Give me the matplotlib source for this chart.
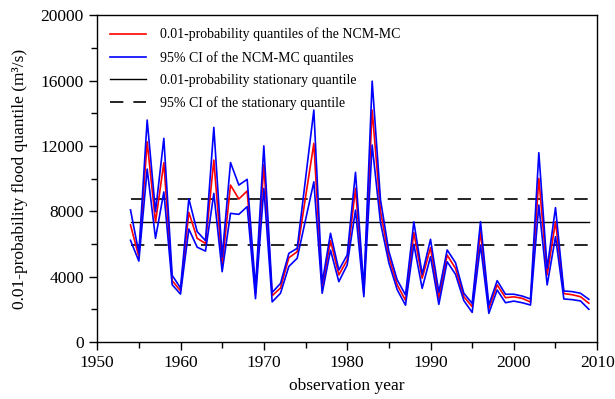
import numpy as np
import matplotlib
matplotlib.use('agg')
from matplotlib import pyplot as plt
from matplotlib.ticker import MultipleLocator

plt.rcParams['font.family'] = ['Liberation Serif', 'DejaVu Serif']

years = np.arange(1954, 2010)

# 0.01-probability quantiles of the NCM-MC
quantile = [7160, 5220, 12250, 7330, 10970, 3750, 3130, 7930, 6340, 6030,
            11130, 4700, 9600, 8750, 9240, 2950, 10850, 2830, 3300, 5150,
            5520, 8840, 12150, 3280, 6200, 4100, 5010, 9400, 2980, 14190,
            8000, 5200, 3500, 2550, 6700, 3900, 5770, 2670, 5320, 4500,
            2770, 2160, 6750, 2060, 3490, 2710, 2760, 2670, 2440, 10010,
            4100, 7360, 2960, 2890, 2770, 2370]
ci_upper = [8080, 5450, 13580, 7970, 12460, 4080, 3300, 8760, 6750, 6200,
            13130, 5200, 10980, 9600, 9950, 3300, 12000, 3030, 3580, 5420,
            5730, 9960, 14190, 3600, 6650, 4400, 5320, 10380, 3280, 15960,
            8700, 5550, 3800, 2880, 7350, 4140, 6280, 3040, 5630, 4850,
            2980, 2360, 7360, 2260, 3750, 2920, 2920, 2810, 2630, 11580,
            4500, 8220, 3120, 3080, 2980, 2610]
ci_lower = [6220, 4950, 10580, 6340, 9180, 3500, 2930, 6910, 5800, 5560,
            9090, 4300, 7870, 7810, 8280, 2650, 9400, 2450, 2980, 4620,
            5120, 7460, 9800, 2980, 5620, 3690, 4710, 8070, 2770, 12050,
            7300, 4850, 3200, 2250, 5980, 3280, 5220, 2300, 4910, 4140,
            2530, 1810, 5930, 1750, 3180, 2400, 2500, 2400, 2260, 8380,
            3490, 6440, 2630, 2590, 2510, 2000]

stationary_q = 7350
stationary_lo = 5950
stationary_hi = 8750

fig = plt.figure(figsize=(6.15, 3.99), dpi=100)
ax = fig.add_axes([0.158, 0.143, 0.813, 0.819])

n = len(years)
ax.plot(years, np.full(n, stationary_q), color='black', lw=1.0, zorder=2,
        label='0.01-probability stationary quantile')
ax.plot(years, np.full(n, stationary_hi), color='black', lw=1.2, ls=(0, (8, 6)), zorder=2,
        label='95% CI of the stationary quantile')
ax.plot(years, np.full(n, stationary_lo), color='black', lw=1.2, ls=(0, (8, 6)), zorder=2)
ax.plot(years, quantile, color='#ff0000', lw=1.2, zorder=3,
        label='0.01-probability quantiles of the NCM-MC')
ax.plot(years, ci_upper, color='#0000ff', lw=1.2, zorder=4,
        label='95% CI of the NCM-MC quantiles')
ax.plot(years, ci_lower, color='#0000ff', lw=1.2, zorder=4)

ax.set_xlim(1950, 2010)
ax.set_ylim(0, 20000)
ax.xaxis.set_major_locator(MultipleLocator(10))
ax.xaxis.set_minor_locator(MultipleLocator(5))
ax.yaxis.set_major_locator(MultipleLocator(4000))
ax.yaxis.set_minor_locator(MultipleLocator(2000))
ax.tick_params(which='major', direction='out', length=6, width=1, labelsize=12.5)
ax.tick_params(which='minor', direction='out', length=4, width=1)
for s in ax.spines.values():
    s.set_linewidth(1.0)

ax.set_xlabel('observation year', fontsize=12.5, labelpad=5)
ax.set_ylabel('0.01-probability flood quantile (m³/s)', fontsize=12.5, labelpad=9)

handles, labels = ax.get_legend_handles_labels()
order = [2, 3, 0, 1]
ax.legend([handles[i] for i in order], [labels[i] for i in order],
          loc='upper left', frameon=False, fontsize=10, handlelength=2.6,
          handletextpad=1.0, labelspacing=0.68, borderaxespad=0.5,
          bbox_to_anchor=(0.0, 1.0))

fig.savefig('out.png', dpi=100)
